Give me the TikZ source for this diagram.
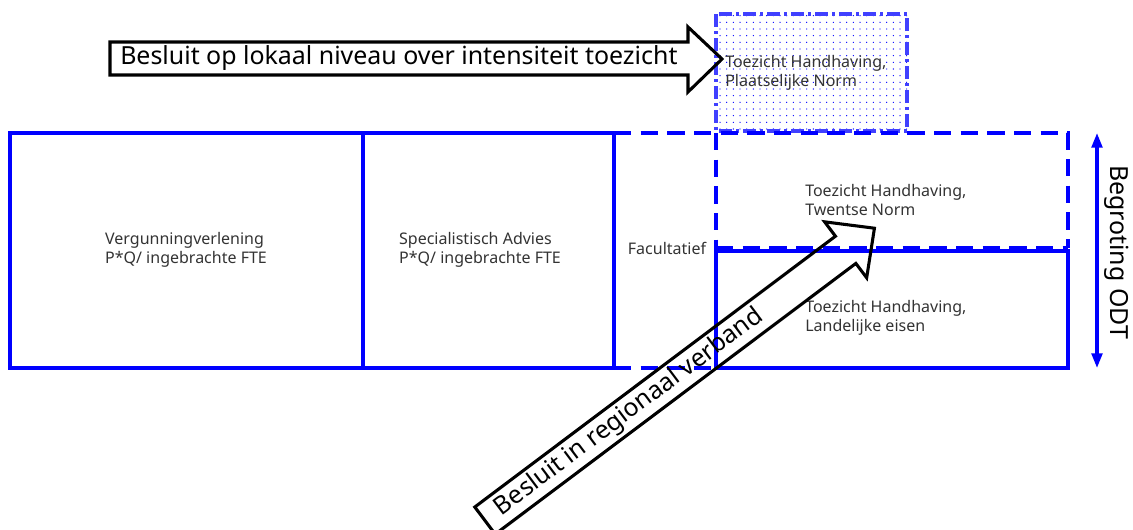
\documentclass[tikz,border=0pt]{standalone}
\usepackage{fontspec}
\setmainfont{Noto Sans}
\usetikzlibrary{arrows.meta,patterns.meta}
\begin{document}
\begin{tikzpicture}[x=0.75pt,y=-0.75pt,
  box/.style={draw=blue, line width=2.4pt},
  dbox/.style={draw=blue, line width=2.4pt, dash pattern=on 13pt off 7pt},
  lbl/.style={font=\fontsize{12}{14.25}\selectfont, align=left, text=black!80, inner sep=0pt},
  big/.style={font=\fontsize{18.7}{22}\selectfont, inner sep=0pt, text=black},
  barrow/.style={draw=black, line width=2.3pt, line join=miter}
]
\useasboundingbox (0,0) rectangle (1133,529);

% top dotted box
\fill[pattern={Dots[distance=5pt,radius=0.5pt]}, pattern color=blue] (716,14) rectangle (907,131);
\draw[draw=blue!75, line width=2.4pt, dash pattern=on 10pt off 3pt on 2pt off 3pt] (716,14) rectangle (907,131);
\node[lbl, anchor=west] (plaats) at (725,73) {Toezicht Handhaving,\\Plaatselijke Norm};

% main boxes
\draw[box] (10,133) rectangle (614,368);
\draw[box] (363,133) -- (363,368);
\draw[dbox] (614,133) -- (1068,133) -- (1068,248);
\draw[dbox] (716,133) -- (716,250);
\draw[dbox] (716,248) -- (1068,248);
\draw[dbox] (614,368) -- (716,368);
\draw[box] (716,251) rectangle (1068,368);

\node[lbl] (verg) at (186,250) {Vergunningverlening\\P*Q/ ingebrachte FTE};
\node[lbl] (spec) at (480,250) {Specialistisch Advies\\P*Q/ ingebrachte FTE};
\node[lbl] (fac) at (667,248) {Facultatief};
\node[lbl, anchor=west] (twente) at (805,200) {Toezicht Handhaving,\\Twentse Norm};
\node[lbl, anchor=west] (land) at (805,318) {Toezicht Handhaving,\\Landelijke eisen};

% budget arrow
\coordinate (btop) at (1097,133);
\coordinate (bbot) at (1097,368);
\draw[blue, line width=2.4pt, {Triangle[length=11pt,width=8pt]}-{Triangle[length=11pt,width=8pt]}] (btop) -- (bbot);
\node[big, rotate=-90] (begr) at (1117,252) {Begroting ODT};

% top block arrow
\draw[barrow] (110,42) -- (688,42) -- (688,27) -- (722,59) -- (688,92) -- (688,75) -- (110,75) -- cycle;
\node[big, anchor=west] (lokaal) at (120,58.5) {Besluit op lokaal niveau over intensiteit toezicht};

% diagonal block arrow
\begin{scope}[shift={(485,520.6)}, rotate=36.9]
\draw[barrow] (0,-17) -- (451,-17) -- (451,-35) -- (487,0) -- (451,35) -- (451,17) -- (0,17) -- cycle;
\node[big, anchor=west, rotate=36.9] (regio) at (16,0) {Besluit in regionaal verband};
\end{scope}
\end{tikzpicture}
\end{document}
